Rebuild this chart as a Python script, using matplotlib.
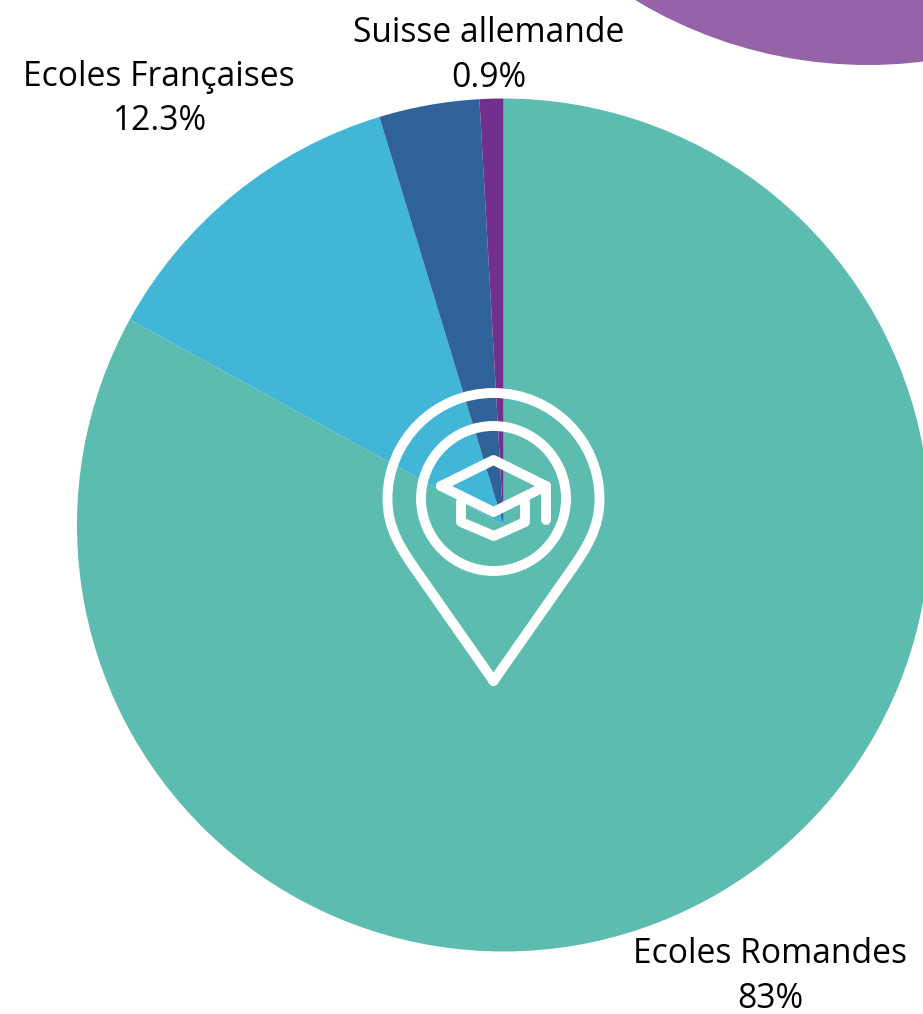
import matplotlib
matplotlib.use("Agg")
import matplotlib.pyplot as plt
from matplotlib.patches import Circle, PathPatch
from matplotlib.path import Path

categories = ["Ecoles Romandes", "Ecoles Françaises", "Autres", "Suisse allemande"]
shares = [83, 12.3, 3.8, 0.9]
colors = ["#5DBCB0", "#41B6D6", "#2E6299", "#722F8E"]
labelled = {"Suisse allemande": "0.9%", "Ecoles Françaises": "12.3%", "Ecoles Romandes": "83%"}
label_centres = {"Suisse allemande": (488.5, 55.5), "Ecoles Françaises": (159, 99), "Ecoles Romandes": (770, 976.5)}

W, H = 923, 1014
plt.rcParams["font.family"] = ["Open Sans", "DejaVu Sans"]
fig = plt.figure(figsize=(W / 100, H / 100), dpi=100, facecolor="white")
ax = fig.add_axes([0, 0, 1, 1])


def Y(py):
    return H - py


ax.pie(shares, colors=colors, startangle=90, counterclock=False,
       center=(503.5, Y(525)), radius=426.5, frame=True,
       wedgeprops={"linewidth": 0})
ax.add_patch(Circle((868, Y(-385)), 450, fc="#9663A8", ec="none", zorder=1))

ax.set_xlim(0, W)
ax.set_ylim(0, H)
ax.set_aspect("auto")
ax.axis("off")

for name, (x, y) in label_centres.items():
    ax.text(x, Y(y), f"{name}\n{labelled[name]}", ha="center", va="center",
            fontsize=24.2, color="#000000", linespacing=1.4, zorder=6)

# Location-pin icon with graduation cap
lw = 7.1
style = dict(fc="none", ec="white", lw=lw, zorder=5, capstyle="round", joinstyle="round")
cx, cy, r = 493.5, 499, 106
k = 0.5523 * r
pin = [
    (Path.MOVETO, (cx, 681)),
    (Path.LINETO, (420, 576)),
    (Path.CURVE4, (400, 548)), (Path.CURVE4, (cx - r, 528)), (Path.CURVE4, (cx - r, cy)),
    (Path.CURVE4, (cx - r, cy - k)), (Path.CURVE4, (cx - k, cy - r)), (Path.CURVE4, (cx, cy - r)),
    (Path.CURVE4, (cx + k, cy - r)), (Path.CURVE4, (cx + r, cy - k)), (Path.CURVE4, (cx + r, cy)),
    (Path.CURVE4, (cx + r, 528)), (Path.CURVE4, (587, 548)), (Path.CURVE4, (567, 576)),
    (Path.LINETO, (cx, 681)),
]
ax.add_patch(PathPatch(Path([(x, Y(y)) for _, (x, y) in pin], [c for c, _ in pin]),
                       **{**style, "joinstyle": "miter"}))
ax.add_patch(Circle((493.5, Y(498.5)), 72.5, fc="none", ec="white", lw=lw, zorder=5))

for pts in (
    [(441, 486), (493.5, 460), (546, 486), (493.5, 512), (441, 486)],
    [(546, 486), (546, 520)],
    [(461, 502), (461, 522), (494, 536), (525, 522), (525, 502)],
):
    ax.add_patch(PathPatch(Path([(x, Y(y)) for x, y in pts]), **style))

fig.savefig("out.png", dpi=100, facecolor="white")
